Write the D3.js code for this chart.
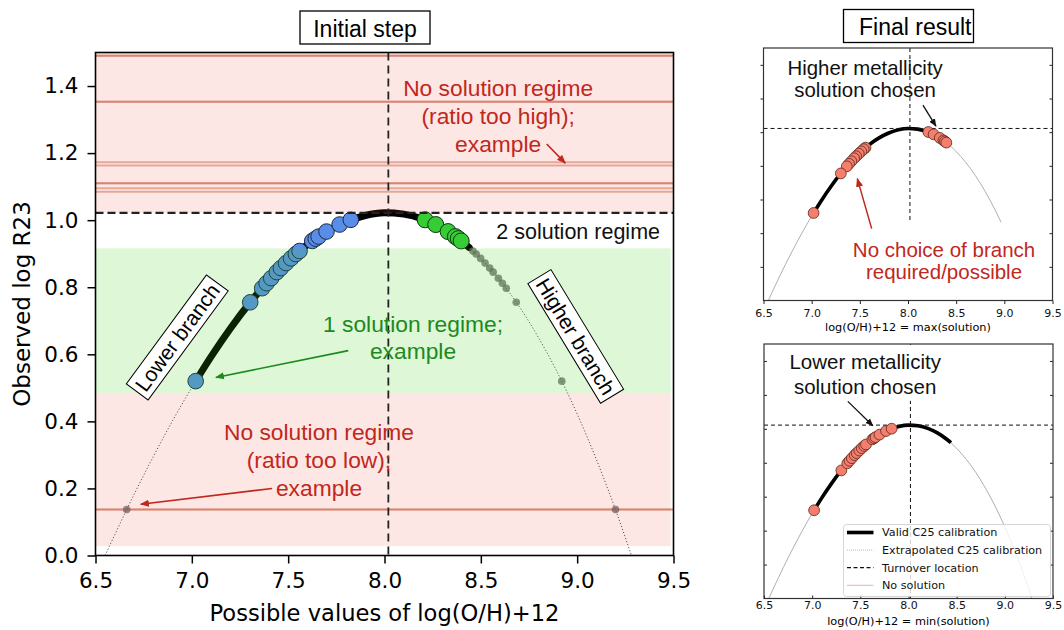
<!DOCTYPE html>
<html>
<head>
<meta charset="utf-8">
<script src="https://cdn.jsdelivr.net/npm/d3@7"></script>
<style>
  body { margin: 0; background: #fff; }
  svg { display: block; font-family: "DejaVu Sans", sans-serif; }
  .ann { font-family: "Liberation Sans", Arial, sans-serif; }
</style>
</head>
<body>
<svg id="fig" width="1064" height="630"></svg>
<script>
// C25 calibration, sampled: log(O/H)+12 against log R23
var curveOH  = [6.55, 6.6, 6.7, 6.8, 6.9, 7.0, 7.02, 7.1, 7.2, 7.3, 7.4, 7.5, 7.6, 7.7, 7.8, 7.9, 8.0,
                8.1, 8.2, 8.3, 8.4, 8.44, 8.5, 8.6, 8.7, 8.8, 8.9, 9.0, 9.1, 9.2, 9.28];
var curveR23 = [0.000, 0.062, 0.182, 0.295, 0.402, 0.501, 0.520, 0.593, 0.677, 0.753, 0.820, 0.878, 0.927, 0.966, 0.995, 1.014, 1.022,
                1.018, 1.003, 0.976, 0.937, 0.918, 0.885, 0.820, 0.742, 0.649, 0.543, 0.422, 0.286, 0.135, 0.003];
var validRange = [7.02, 8.44];
var turnover = [8.02, 1.022];

// regime boundaries in log R23
var twoSolMin = 0.916;
var oneSolMin = 0.485;
var lowBandMin = 0.028;

// observations with two valid solutions
var twoSolR23  = [1.001, 0.987, 0.966, 0.951, 0.945, 0.938];
var twoSolLow  = [7.825, 7.767, 7.699, 7.658, 7.643, 7.625];
var twoSolHigh = [8.211, 8.266, 8.330, 8.368, 8.383, 8.398];

// observations with one valid solution (higher one is extrapolated)
var oneSolR23  = [0.908, 0.899, 0.886, 0.872, 0.857, 0.845, 0.827, 0.812, 0.797, 0.755, 0.520];
var oneSolLow  = [7.559, 7.540, 7.515, 7.489, 7.462, 7.441, 7.412, 7.388, 7.365, 7.303, 7.020];
var oneSolHigh = [8.459, 8.476, 8.499, 8.522, 8.546, 8.564, 8.591, 8.612, 8.632, 8.684, 8.920];

// observations without solution
var tooHighR23 = [1.49, 1.49, 1.353, 1.353, 1.173, 1.163, 1.11, 1.11, 1.095, 1.085];
var tooLowR23  = [0.137, 0.137];
var tooLowSol  = [6.662, 9.199];

var xTicks = [6.5, 7.0, 7.5, 8.0, 8.5, 9.0, 9.5];
var yTicks = [0.0, 0.2, 0.4, 0.6, 0.8, 1.0, 1.2, 1.4];
var ySmallTicks = [0.2, 0.4, 0.6, 0.8, 1.0, 1.2, 1.4];

var RED = "#c1271b", GREEN = "#1d8a1d";

var svg = d3.select("#fig");

var defs = svg.append("defs");
function arrowHead(id, color, size) {
	defs.append("marker")
		.attr("id", id)
		.attr("viewBox", "0 0 10 10")
		.attr("refX", 9).attr("refY", 5)
		.attr("markerWidth", size).attr("markerHeight", size)
		.attr("markerUnits", "userSpaceOnUse")
		.attr("orient", "auto")
		.append("path")
		.attr("d", "M0,1 L10,5 L0,9 Z")
		.attr("fill", color);
}
arrowHead("ahRed", RED, 9);
arrowHead("ahGreen", GREEN, 9);
arrowHead("ahBlack", "#111", 8);

var curvePts = d3.zip(curveOH, curveR23);
var validPts = curvePts.filter(function(p) { return p[0] >= validRange[0] && p[0] <= validRange[1]; });
var lowExtrap = curvePts.filter(function(p) { return p[0] <= validRange[0]; });
var highExtrap = curvePts.filter(function(p) { return p[0] >= validRange[1]; });

/* ------- INITIAL STEP (left panel) -------*/

var x = d3.scaleLinear().domain([6.5, 9.5]).range([95.5, 673.5]);
var y = d3.scaleLinear().domain([0, 1.5]).range([555.5, 52.5]);

var main = svg.append("g");

var line = d3.line()
	.x(function(d) { return x(d[0]); })
	.y(function(d) { return y(d[1]); })
	.curve(d3.curveMonotoneX);

// no-solution ratios as horizontal lines
main.selectAll("line.nosol")
	.data(tooHighR23.concat(tooLowR23))
	.enter().append("line")
	.attr("class", "nosol")
	.attr("x1", x(6.5)).attr("x2", x(9.5))
	.attr("y1", function(d) { return y(d); })
	.attr("y2", function(d) { return y(d); })
	.attr("stroke", "rgb(195,95,65)")
	.attr("stroke-width", 2)
	.attr("stroke-opacity", 0.45);

[lowExtrap, highExtrap].forEach(function(seg) {
	main.append("path").datum(seg)
		.attr("d", line)
		.attr("fill", "none")
		.attr("stroke", "#555")
		.attr("stroke-width", 1)
		.attr("stroke-dasharray", "1.2,2");
});
main.append("path").datum(validPts)
	.attr("d", line)
	.attr("fill", "none")
	.attr("stroke", "#000")
	.attr("stroke-width", 7)
	.attr("stroke-linecap", "round");

// extrapolated (rejected) solutions
var grayPts = oneSolHigh.map(function(v, i) { return [v, oneSolR23[i]]; })
	.concat(tooLowSol.map(function(v) { return [v, tooLowR23[0]]; }));
main.selectAll("circle.rej")
	.data(grayPts)
	.enter().append("circle")
	.attr("class", "rej")
	.attr("cx", function(d) { return x(d[0]); })
	.attr("cy", function(d) { return y(d[1]); })
	.attr("r", 3.8)
	.attr("fill", "#666")
	.attr("fill-opacity", 0.75);

// lower-branch solutions
var bluePts = twoSolLow.map(function(v, i) { return [v, twoSolR23[i]]; })
	.concat(oneSolLow.map(function(v, i) { return [v, oneSolR23[i]]; }))
	.sort(function(a, b) { return a[1] - b[1]; });
main.selectAll("circle.low")
	.data(bluePts)
	.enter().append("circle")
	.attr("class", "low")
	.attr("cx", function(d) { return x(d[0]); })
	.attr("cy", function(d) { return y(d[1]); })
	.attr("r", 7.8)
	.attr("fill", "#5a8de8")
	.attr("stroke", "#1b2944")
	.attr("stroke-width", 1);

// higher-branch solutions
var greenPts = twoSolHigh.map(function(v, i) { return [v, twoSolR23[i]]; });
main.selectAll("circle.high")
	.data(greenPts)
	.enter().append("circle")
	.attr("class", "high")
	.attr("cx", function(d) { return x(d[0]); })
	.attr("cy", function(d) { return y(d[1]); })
	.attr("r", 8)
	.attr("fill", "#35cc35")
	.attr("stroke", "#123512")
	.attr("stroke-width", 1);

// regime bands, tinted over the marks
main.append("rect")
	.attr("x", x(6.5)).attr("width", x(9.5) - x(6.5))
	.attr("y", y(1.5)).attr("height", y(turnover[1]) - y(1.5))
	.attr("fill", "rgb(240,60,40)").attr("fill-opacity", 0.12);
main.append("rect")
	.attr("x", x(6.5)).attr("width", x(9.485) - x(6.5))
	.attr("y", y(twoSolMin)).attr("height", y(oneSolMin) - y(twoSolMin))
	.attr("fill", "rgb(60,205,20)").attr("fill-opacity", 0.17);
main.append("rect")
	.attr("x", x(6.5)).attr("width", x(9.485) - x(6.5))
	.attr("y", y(oneSolMin)).attr("height", y(lowBandMin) - y(oneSolMin))
	.attr("fill", "rgb(240,60,40)").attr("fill-opacity", 0.12);

// turnover location
main.append("line")
	.attr("x1", x(turnover[0])).attr("x2", x(turnover[0]))
	.attr("y1", y(1.5)).attr("y2", y(0))
	.attr("stroke", "#222").attr("stroke-width", 1.8)
	.attr("stroke-dasharray", "8,5");
main.append("line")
	.attr("x1", x(6.5)).attr("x2", x(9.5))
	.attr("y1", y(turnover[1])).attr("y2", y(turnover[1]))
	.attr("stroke", "#222").attr("stroke-width", 2.2)
	.attr("stroke-dasharray", "8,4");

// annotations
function label(g, lines, cx, by, step, color, size, anchor) {
	var t = g.append("text").attr("class", "ann")
		.attr("fill", color)
		.attr("font-size", size)
		.attr("text-anchor", anchor || "middle");
	lines.forEach(function(s, i) {
		t.append("tspan").attr("x", cx).attr("y", by + i * step).text(s);
	});
	return t;
}
function arrow(g, p0, p1, color, id, width) {
	g.append("line")
		.attr("x1", p0[0]).attr("y1", p0[1])
		.attr("x2", p1[0]).attr("y2", p1[1])
		.attr("stroke", color).attr("stroke-width", width || 1.6)
		.attr("marker-end", "url(#" + id + ")");
}

label(main, ["No solution regime", "(ratio too high);", "example"], x(8.59), y(1.371), 28, RED, 22.8);
arrow(main, [x(8.842), y(1.227)], [x(8.938), y(1.170)], RED, "ahRed");

label(main, ["2 solution regime"], x(9.43), y(0.943), 0, "#111", 21.5, "end");

label(main, ["1 solution regime;", "example"], x(8.148), y(0.667), 27.6, GREEN, 22.8);
arrow(main, [x(7.812), y(0.611)], [x(7.125), y(0.531)], GREEN, "ahGreen");

label(main, ["No solution regime", "(ratio too low);", "example"], x(7.66), y(0.344), 28, RED, 22.8);
arrow(main, [x(7.417), y(0.200)], [x(6.735), y(0.153)], RED, "ahRed");

function branchBox(text, cx, cy, angle) {
	var g = main.append("g")
		.attr("transform", "translate(" + x(cx) + "," + y(cy) + ") rotate(" + angle + ")");
	var r = g.append("rect").attr("fill", "#fff").attr("stroke", "#000").attr("stroke-width", 1);
	var t = g.append("text").attr("class", "ann")
		.attr("font-size", 21)
		.attr("text-anchor", "middle")
		.attr("dy", "0.35em")
		.text(text);
	var bb = t.node().getBBox();
	r.attr("x", bb.x - 4).attr("y", bb.y - 2)
		.attr("width", bb.width + 8).attr("height", bb.height + 4);
}
branchBox("Lower branch", 6.925, 0.650, -53.7);
branchBox("Higher branch", 8.992, 0.653, 58.7);

// axes
var xAxis = main.append("g")
	.attr("transform", "translate(0," + y(0) + ")")
	.call(d3.axisBottom(x).tickValues(xTicks).tickFormat(d3.format(".1f"))
		.tickSize(8).tickPadding(9).tickSizeOuter(0));
var yAxis = main.append("g")
	.attr("transform", "translate(" + x(6.5) + ",0)")
	.call(d3.axisLeft(y).tickValues(yTicks).tickFormat(d3.format(".1f"))
		.tickSize(8).tickPadding(9).tickSizeOuter(0));
[xAxis, yAxis].forEach(function(a) {
	a.select(".domain").remove();
	a.selectAll(".tick line").attr("stroke", "#000").attr("stroke-width", 1.5);
	a.selectAll("text").attr("font-size", 21.5).attr("fill", "#000")
		.attr("font-family", "DejaVu Sans");
});
main.append("rect")
	.attr("x", x(6.5)).attr("y", y(1.5))
	.attr("width", x(9.5) - x(6.5)).attr("height", y(0) - y(1.5))
	.attr("fill", "none").attr("stroke", "#000").attr("stroke-width", 1.6);

main.append("text")
	.attr("x", (x(6.5) + x(9.5)) / 2).attr("y", 621)
	.attr("text-anchor", "middle").attr("font-size", 22.6)
	.text("Possible values of log(O/H)+12");
main.append("text")
	.attr("transform", "translate(30," + (y(0) + y(1.5)) / 2 + ") rotate(-90)")
	.attr("text-anchor", "middle").attr("font-size", 23)
	.text("Observed log R23");

main.append("rect")
	.attr("x", 300).attr("y", 11).attr("width", 130).attr("height", 33)
	.attr("fill", "#fff").attr("stroke", "#000").attr("stroke-width", 1.3);
main.append("text").attr("class", "ann")
	.attr("x", 365).attr("y", 37)
	.attr("text-anchor", "middle").attr("font-size", 23)
	.text("Initial step");

/* ------- FINAL RESULT (right panels) -------*/

svg.append("rect")
	.attr("x", 843.5).attr("y", 9.5).attr("width", 130).attr("height", 33)
	.attr("fill", "#fff").attr("stroke", "#000").attr("stroke-width", 1.3);
svg.append("text").attr("class", "ann")
	.attr("x", 859).attr("y", 35)
	.attr("font-size", 23)
	.text("Final result");

function smallPanel(opt) {
	var g = svg.append("g");
	var sx = d3.scaleLinear().domain([6.5, 9.5]).range(opt.xr);
	var sy = d3.scaleLinear().domain([0, 1.5]).range(opt.yr);
	var ln = d3.line()
		.x(function(d) { return sx(d[0]); })
		.y(function(d) { return sy(d[1]); })
		.curve(d3.curveMonotoneX);

	[lowExtrap, highExtrap].forEach(function(seg) {
		g.append("path").datum(seg)
			.attr("d", ln).attr("fill", "none")
			.attr("stroke", "#9a9a9a").attr("stroke-width", 0.8);
	});
	g.append("path").datum(validPts)
		.attr("d", ln).attr("fill", "none")
		.attr("stroke", "#000").attr("stroke-width", 3.6);

	g.append("line")
		.attr("x1", sx(turnover[0])).attr("x2", sx(turnover[0]))
		.attr("y1", sy(1.5)).attr("y2", sy(0))
		.attr("stroke", "#111").attr("stroke-width", 1)
		.attr("stroke-dasharray", "4,3");
	g.append("line")
		.attr("x1", sx(6.5)).attr("x2", sx(9.5))
		.attr("y1", sy(turnover[1])).attr("y2", sy(turnover[1]))
		.attr("stroke", "#111").attr("stroke-width", 1)
		.attr("stroke-dasharray", "4,3");

	g.selectAll("circle.sol")
		.data(opt.points)
		.enter().append("circle")
		.attr("class", "sol")
		.attr("cx", function(d) { return sx(d[0]); })
		.attr("cy", function(d) { return sy(d[1]); })
		.attr("r", 5.4)
		.attr("fill", "#f47f6f")
		.attr("stroke", "#5a2418")
		.attr("stroke-width", 0.8);

	// text boxes sitting on the plot
	if (opt.cover) {
		g.append("rect")
			.attr("x", sx(opt.cover[0])).attr("y", sy(opt.cover[3]))
			.attr("width", sx(opt.cover[1]) - sx(opt.cover[0]))
			.attr("height", sy(opt.cover[2]) - sy(opt.cover[3]))
			.attr("fill", "#fff");
	}

	var inward = opt.inward;
	var ax = g.append("g")
		.attr("transform", "translate(0," + sy(0) + ")")
		.call(d3.axisBottom(sx).tickValues(xTicks).tickFormat(d3.format(".1f"))
			.tickSize(inward ? -3 : 3.5).tickPadding(inward ? 6 : 5.5).tickSizeOuter(0));
	var ay = g.append("g")
		.attr("transform", "translate(" + sx(6.5) + ",0)")
		.call(d3.axisLeft(sy).tickValues(ySmallTicks).tickFormat("")
			.tickSize(inward ? -3 : 3).tickSizeOuter(0));
	var ar = g.append("g")
		.attr("transform", "translate(" + sx(9.5) + ",0)")
		.call(d3.axisLeft(sy).tickValues(ySmallTicks).tickFormat("")
			.tickSize(3).tickSizeOuter(0));
	[ax, ay, ar].forEach(function(a) {
		a.select(".domain").remove();
		a.selectAll(".tick line").attr("stroke", "#222").attr("stroke-width", 1);
		a.selectAll("text").attr("font-size", 11).attr("fill", "#111")
			.attr("font-family", "DejaVu Sans");
	});
	if (inward) ax.selectAll("text").attr("dy", "0.71em").attr("y", 3);

	g.append("rect")
		.attr("x", sx(6.5)).attr("y", sy(1.5))
		.attr("width", sx(9.5) - sx(6.5)).attr("height", sy(0) - sy(1.5))
		.attr("fill", "none").attr("stroke", "#333").attr("stroke-width", 1.2);

	g.append("text")
		.attr("x", (sx(6.5) + sx(9.5)) / 2).attr("y", opt.labelY)
		.attr("text-anchor", "middle").attr("font-size", 11.3)
		.text(opt.xlabel);

	return { g: g, x: sx, y: sy };
}

// upper panel: larger of the two solutions where both exist
var maxPts = twoSolHigh.map(function(v, i) { return [v, twoSolR23[i]]; })
	.concat(oneSolLow.map(function(v, i) { return [v, oneSolR23[i]]; }));
var maxPanel = smallPanel({
	xr: [763.5, 1052.5], yr: [300.5, 48],
	points: maxPts,
	cover: [7.2, 9.5, 0.003, 0.465],
	inward: false,
	labelY: 331,
	xlabel: "log(O/H)+12 = max(solution)"
});
label(maxPanel.g, ["Higher metallicity", "solution chosen"], maxPanel.x(7.555), maxPanel.y(1.339), 22, "#111", 20.4);
arrow(maxPanel.g, [maxPanel.x(8.155), maxPanel.y(1.161)], [maxPanel.x(8.29), maxPanel.y(1.036)], "#111", "ahBlack", 1.3);
label(maxPanel.g, ["No choice of branch", "required/possible"], maxPanel.x(8.374), maxPanel.y(0.258), 21.5, RED, 20.5);
arrow(maxPanel.g, [maxPanel.x(7.623), maxPanel.y(0.427)], [maxPanel.x(7.474), maxPanel.y(0.724)], RED, "ahRed", 1.5);

// lower panel: smaller of the two solutions
var minPts = twoSolLow.map(function(v, i) { return [v, twoSolR23[i]]; })
	.concat(oneSolLow.map(function(v, i) { return [v, oneSolR23[i]]; }))
	.sort(function(a, b) { return a[1] - b[1]; });
var minPanel = smallPanel({
	xr: [764, 1053], yr: [598.5, 344],
	points: minPts,
	cover: [6.72, 8.38, 1.165, 1.495],
	inward: true,
	labelY: 624.5,
	xlabel: "log(O/H)+12 = min(solution)"
});
label(minPanel.g, ["Lower metallicity", "solution chosen"], minPanel.x(7.55), minPanel.y(1.351), 24.3, "#111", 20.5);
arrow(minPanel.g, [minPanel.x(7.37), minPanel.y(1.162)], [minPanel.x(7.63), minPanel.y(1.018)], "#111", "ahBlack", 1.3);

// legend
var legendItems = ["Valid C25 calibration", "Extrapolated C25 calibration", "Turnover location", "No solution"];
var leg = minPanel.g.append("g").attr("transform", "translate(843.5,524.5)");
leg.append("rect")
	.attr("width", 207).attr("height", 72).attr("rx", 3)
	.attr("fill", "#fff").attr("fill-opacity", 0.8)
	.attr("stroke", "#ccc").attr("stroke-width", 0.8);
var row = leg.selectAll("g.row").data(legendItems).enter().append("g")
	.attr("class", "row")
	.attr("transform", function(d, i) { return "translate(0," + (8 + i * 17.6) + ")"; });
row.append("line")
	.attr("x1", 3.5).attr("x2", 30)
	.attr("stroke", function(d, i) { return ["#000", "#aaa", "#111", "#e6b4a4"][i]; })
	.attr("stroke-width", function(d, i) { return [3.6, 0.8, 1.2, 1][i]; })
	.attr("stroke-dasharray", function(d, i) { return [null, "1,1", "4,2.5", null][i]; });
row.append("text")
	.attr("x", 38.5).attr("dy", "0.35em")
	.attr("font-size", 11.2).attr("fill", "#111")
	.text(function(d) { return d; });
</script>
</body>
</html>
